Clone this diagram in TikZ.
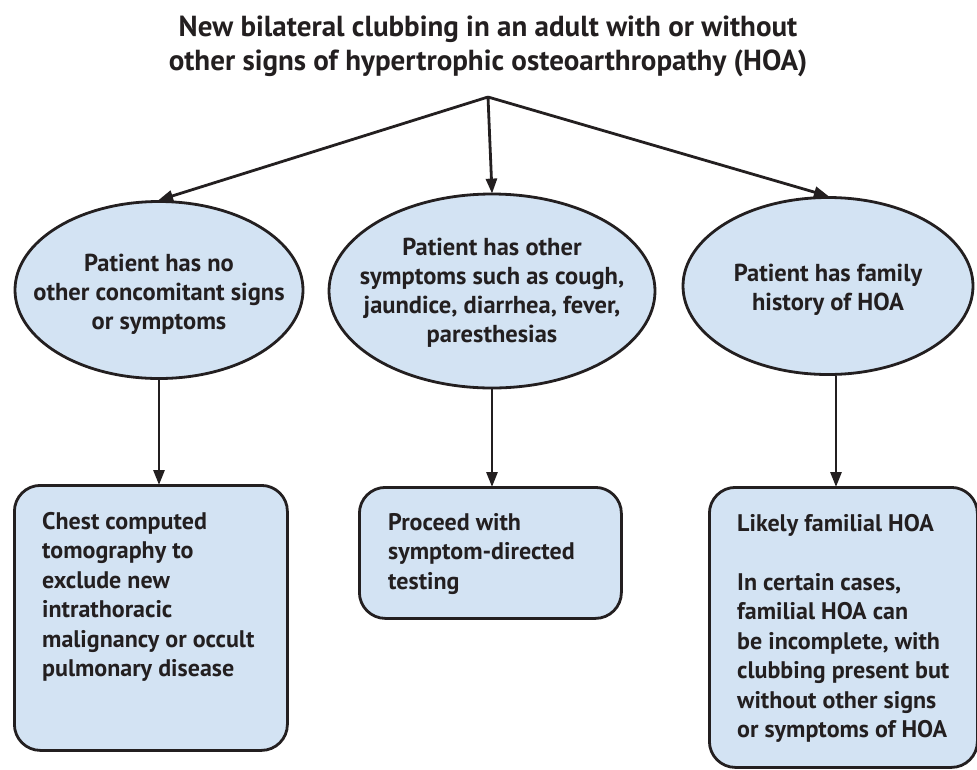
\documentclass[tikz,border=0pt]{standalone}
\usepackage{fontspec}
\setmainfont{PT Sans}
\usetikzlibrary{shapes.geometric,arrows.meta}
\definecolor{ink}{HTML}{231F20}
\definecolor{pale}{HTML}{D3E3F3}
\tikzset{
  oval/.style={ellipse, draw=ink, line width=2.8pt, fill=pale, inner sep=0pt},
  rbox/.style={rectangle, rounded corners=26pt, draw=ink, line width=2.8pt, fill=pale, inner sep=0pt, anchor=north west},
  otext/.style={align=center, text=ink, font=\bfseries\fontsize{24.5}{29}\selectfont, inner sep=0pt},
  btext/.style={align=left, text=ink, font=\bfseries\fontsize{24}{29.5}\selectfont, inner sep=0pt, anchor=north west},
  ttext/.style={align=center, text=ink, font=\bfseries\fontsize{29}{34}\selectfont, inner sep=0pt},
  conn/.style={draw=ink, line width=2.8pt},
  arr/.style={conn, -{Triangle[length=15pt,width=11pt]}, shorten >=-1pt}
}
\begin{document}
\begin{tikzpicture}[x=1pt,y=-1pt]
\useasboundingbox (0,0) rectangle (977,769);
\node[ttext] (title) at (488,46) {New bilateral clubbing in an adult with or without\\other signs of hypertrophic osteoarthropathy (HOA)};
\coordinate (apex) at (488,97);
\node[oval, minimum width=288pt, minimum height=177pt] (L) at (159,290) {};
\node[oval, minimum width=326pt, minimum height=194pt] (M) at (492,291) {};
\node[oval, minimum width=290pt, minimum height=177pt] (R) at (828,286) {};
\node[otext] (Lt) at (159,294) {Patient has no\\other concomitant signs\\or symptoms};
\node[otext] (Mt) at (492,293) {Patient has other\\symptoms such as cough,\\jaundice, diarrhea, fever,\\paresthesias};
\node[otext] (Rt) at (828,290) {Patient has family\\history of HOA};
\node[rbox, minimum width=273pt, minimum height=265pt] (LB) at (13,484) {};
\node[rbox, minimum width=262pt, minimum height=131pt] (MB) at (358,486) {};
\node[rbox, minimum width=268pt, minimum height=280pt] (RB) at (708,486) {};
\node[btext] (LBt) at (42,512) {Chest computed\\tomography to\\exclude new\\intrathoracic\\malignancy or occult\\pulmonary disease};
\node[btext] (MBt) at (388,513) {Proceed with\\symptom-directed\\testing};
\node[btext] (RBt) at (737,514) {Likely familial HOA\\[29.5pt]In certain cases,\\familial HOA can\\be incomplete, with\\clubbing present but\\without other signs\\or symptoms of HOA};
\draw[arr] (apex) -- (L.north);
\draw[arr] (apex) -- (M.north);
\draw[arr] (apex) -- (R.north);
\draw[arr] (L.south) -- (L.south |- LB.north);
\draw[arr] (M.south) -- (M.south |- MB.north);
\draw[arr] ([xshift=8pt]R.south) -- ([xshift=8pt]R.south |- RB.north);
\end{tikzpicture}
\end{document}
